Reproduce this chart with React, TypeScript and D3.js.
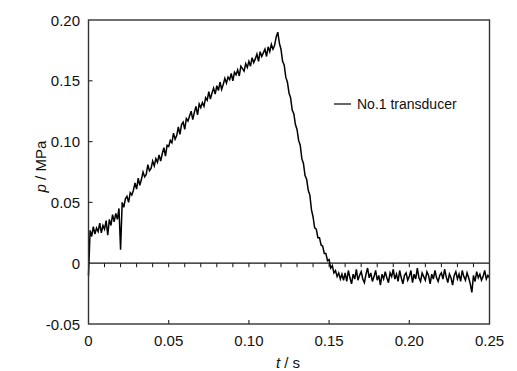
import React from "react";
import * as d3 from "d3";

// time step of the sampled record (s)
const T_STEP = 0.001;

// pressure readings (MPa x 1000), every 1 ms from t = 0 to 0.25 s
const pressure: number[] = [
  -10, 27, 22, 30, 24, 29, 26, 33, 25, 31,
  28, 35, 23, 36, 31, 40, 34, 41, 36, 45,
  11, 50, 46, 53, 55, 50, 58, 56, 60, 66,
  61, 70, 64, 69, 75, 71, 73, 81, 76, 78,
  84, 80, 86, 83, 89, 84, 90, 95, 88, 97,
  96, 101, 99, 107, 102, 105, 112, 106, 114, 116,
  110, 119, 117, 121, 125, 118, 124, 129, 122, 131,
  128, 132, 129, 136, 134, 141, 135, 140, 144, 139,
  146, 142, 149, 143, 147, 152, 148, 153, 151, 156,
  150, 157, 155, 159, 154, 162, 160, 158, 164, 161,
  166, 162, 169, 165, 168, 172, 166, 174, 170, 173,
  176, 170, 178, 174, 180, 176, 179, 186, 190, 181,
  176, 166, 163, 153, 149, 140, 136, 126, 123, 114,
  110, 101, 97, 86, 82, 72, 69, 60, 56, 44,
  38, 29, 28, 21, 21, 15, 14, 8, 8, 2,
  3, -4, -2, -8, -6, -11, -8, -13, -9, -14,
  -8, -15, -6, -12, -17, -9, -13, -5, -14, -10,
  -7, -13, -16, -9, -4, -12, -8, -15, -11, -6,
  -14, -10, -18, -9, -13, -7, -12, -16, -8, -11,
  -5, -13, -9, -15, -6, -12, -17, -10, -8, -14,
  -11, -6, -16, -9, -13, -4, -12, -15, -8, -11,
  -14, -7, -10, -17, -9, -13, -6, -12, -15, -10,
  -8, -13, -5, -11, -16, -9, -12, -18, -10, -7,
  -13, -9, -15, -6, -11, -14, -8, -12, -17, -24,
  -10, -15, -7, -12, -9, -14, -11, -6, -13, -10,
  -12,
];

const xTicks = [0, 0.05, 0.1, 0.15, 0.2, 0.25];
const xTickLabels = ["0", "0.05", "0.10", "0.15", "0.20", "0.25"];
const yTicks = [-0.05, 0, 0.05, 0.1, 0.15, 0.2];
const yTickLabels = ["-0.05", "0", "0.05", "0.10", "0.15", "0.20"];
const zeroLineTicks = d3.range(1, 25).map((i) => i * 0.01);
const legendLabel = "No.1 transducer";

const W = 517;
const H = 371;
const FONT = "'Liberation Sans', Arial, sans-serif";

export default function App() {
  const x = d3.scaleLinear().domain([0, 0.25]).range([88.5, 489.5]);
  const y = d3.scaleLinear().domain([-0.05, 0.2]).range([324, 20]);
  const data = pressure.map((v, i) => [i * T_STEP, v / 1000] as [number, number]);
  const line = d3
    .line<[number, number]>()
    .x((d) => x(d[0]))
    .y((d) => y(d[1]));
  const [x0, x1] = x.range();
  const [yb, yt] = y.range();
  const frame = "#333";

  return (
    <svg
      width={W}
      height={H}
      style={{ position: "absolute", left: 0, top: 0, background: "#fff" }}
      fontFamily={FONT}
    >
      <rect x={0} y={0} width={W} height={H} fill="#fff" />
      {/* zero line with ticks */}
      <line x1={x0} x2={x1} y1={y(0)} y2={y(0)} stroke="#111" strokeWidth={1.3} />
      {zeroLineTicks.map((t) => (
        <line key={t} x1={x(t)} x2={x(t)} y1={y(0)} y2={y(0) + 4} stroke="#111" strokeWidth={1} />
      ))}
      {/* data */}
      <path d={line(data) || ""} fill="none" stroke="#000" strokeWidth={1.5} strokeLinejoin="miter" />
      {/* frame */}
      <rect x={x0} y={yt} width={x1 - x0} height={yb - yt} fill="none" stroke={frame} strokeWidth={1.4} />
      {/* x ticks */}
      {xTicks.map((t, i) => (
        <g key={"x" + i}>
          {i > 0 && i < xTicks.length - 1 && (
            <line x1={x(t)} x2={x(t)} y1={yb} y2={yb - 4} stroke={frame} strokeWidth={1.2} />
          )}
          <text x={x(t)} y={340} textAnchor="middle" dominantBaseline="central" fontSize={15} fill="#111">
            {xTickLabels[i]}
          </text>
        </g>
      ))}
      {/* y ticks */}
      {yTicks.map((t, i) => (
        <g key={"y" + i}>
          {i > 0 && i < yTicks.length - 1 && t !== 0 && (
            <line x1={x0} x2={x0 + 4} y1={y(t)} y2={y(t)} stroke={frame} strokeWidth={1.2} />
          )}
          <text x={80} y={y(t)} textAnchor="end" dominantBaseline="central" fontSize={15} fill="#111">
            {yTickLabels[i]}
          </text>
        </g>
      ))}
      {/* axis titles */}
      <text x={288} y={362} textAnchor="middle" dominantBaseline="central" fontSize={15} fill="#111">
        <tspan fontStyle="italic">t</tspan> / s
      </text>
      <text
        transform={`translate(40,${y(0.1) + 25}) rotate(-90)`}
        textAnchor="middle"
        dominantBaseline="central"
        fontSize={15}
        fill="#111"
      >
        <tspan fontStyle="italic">p</tspan> / MPa
      </text>
      {/* legend */}
      <line x1={334} x2={351} y1={104} y2={104} stroke="#000" strokeWidth={1.2} />
      <text x={357} y={104} dominantBaseline="central" fontSize={14} fill="#111">
        {legendLabel}
      </text>
    </svg>
  );
}
